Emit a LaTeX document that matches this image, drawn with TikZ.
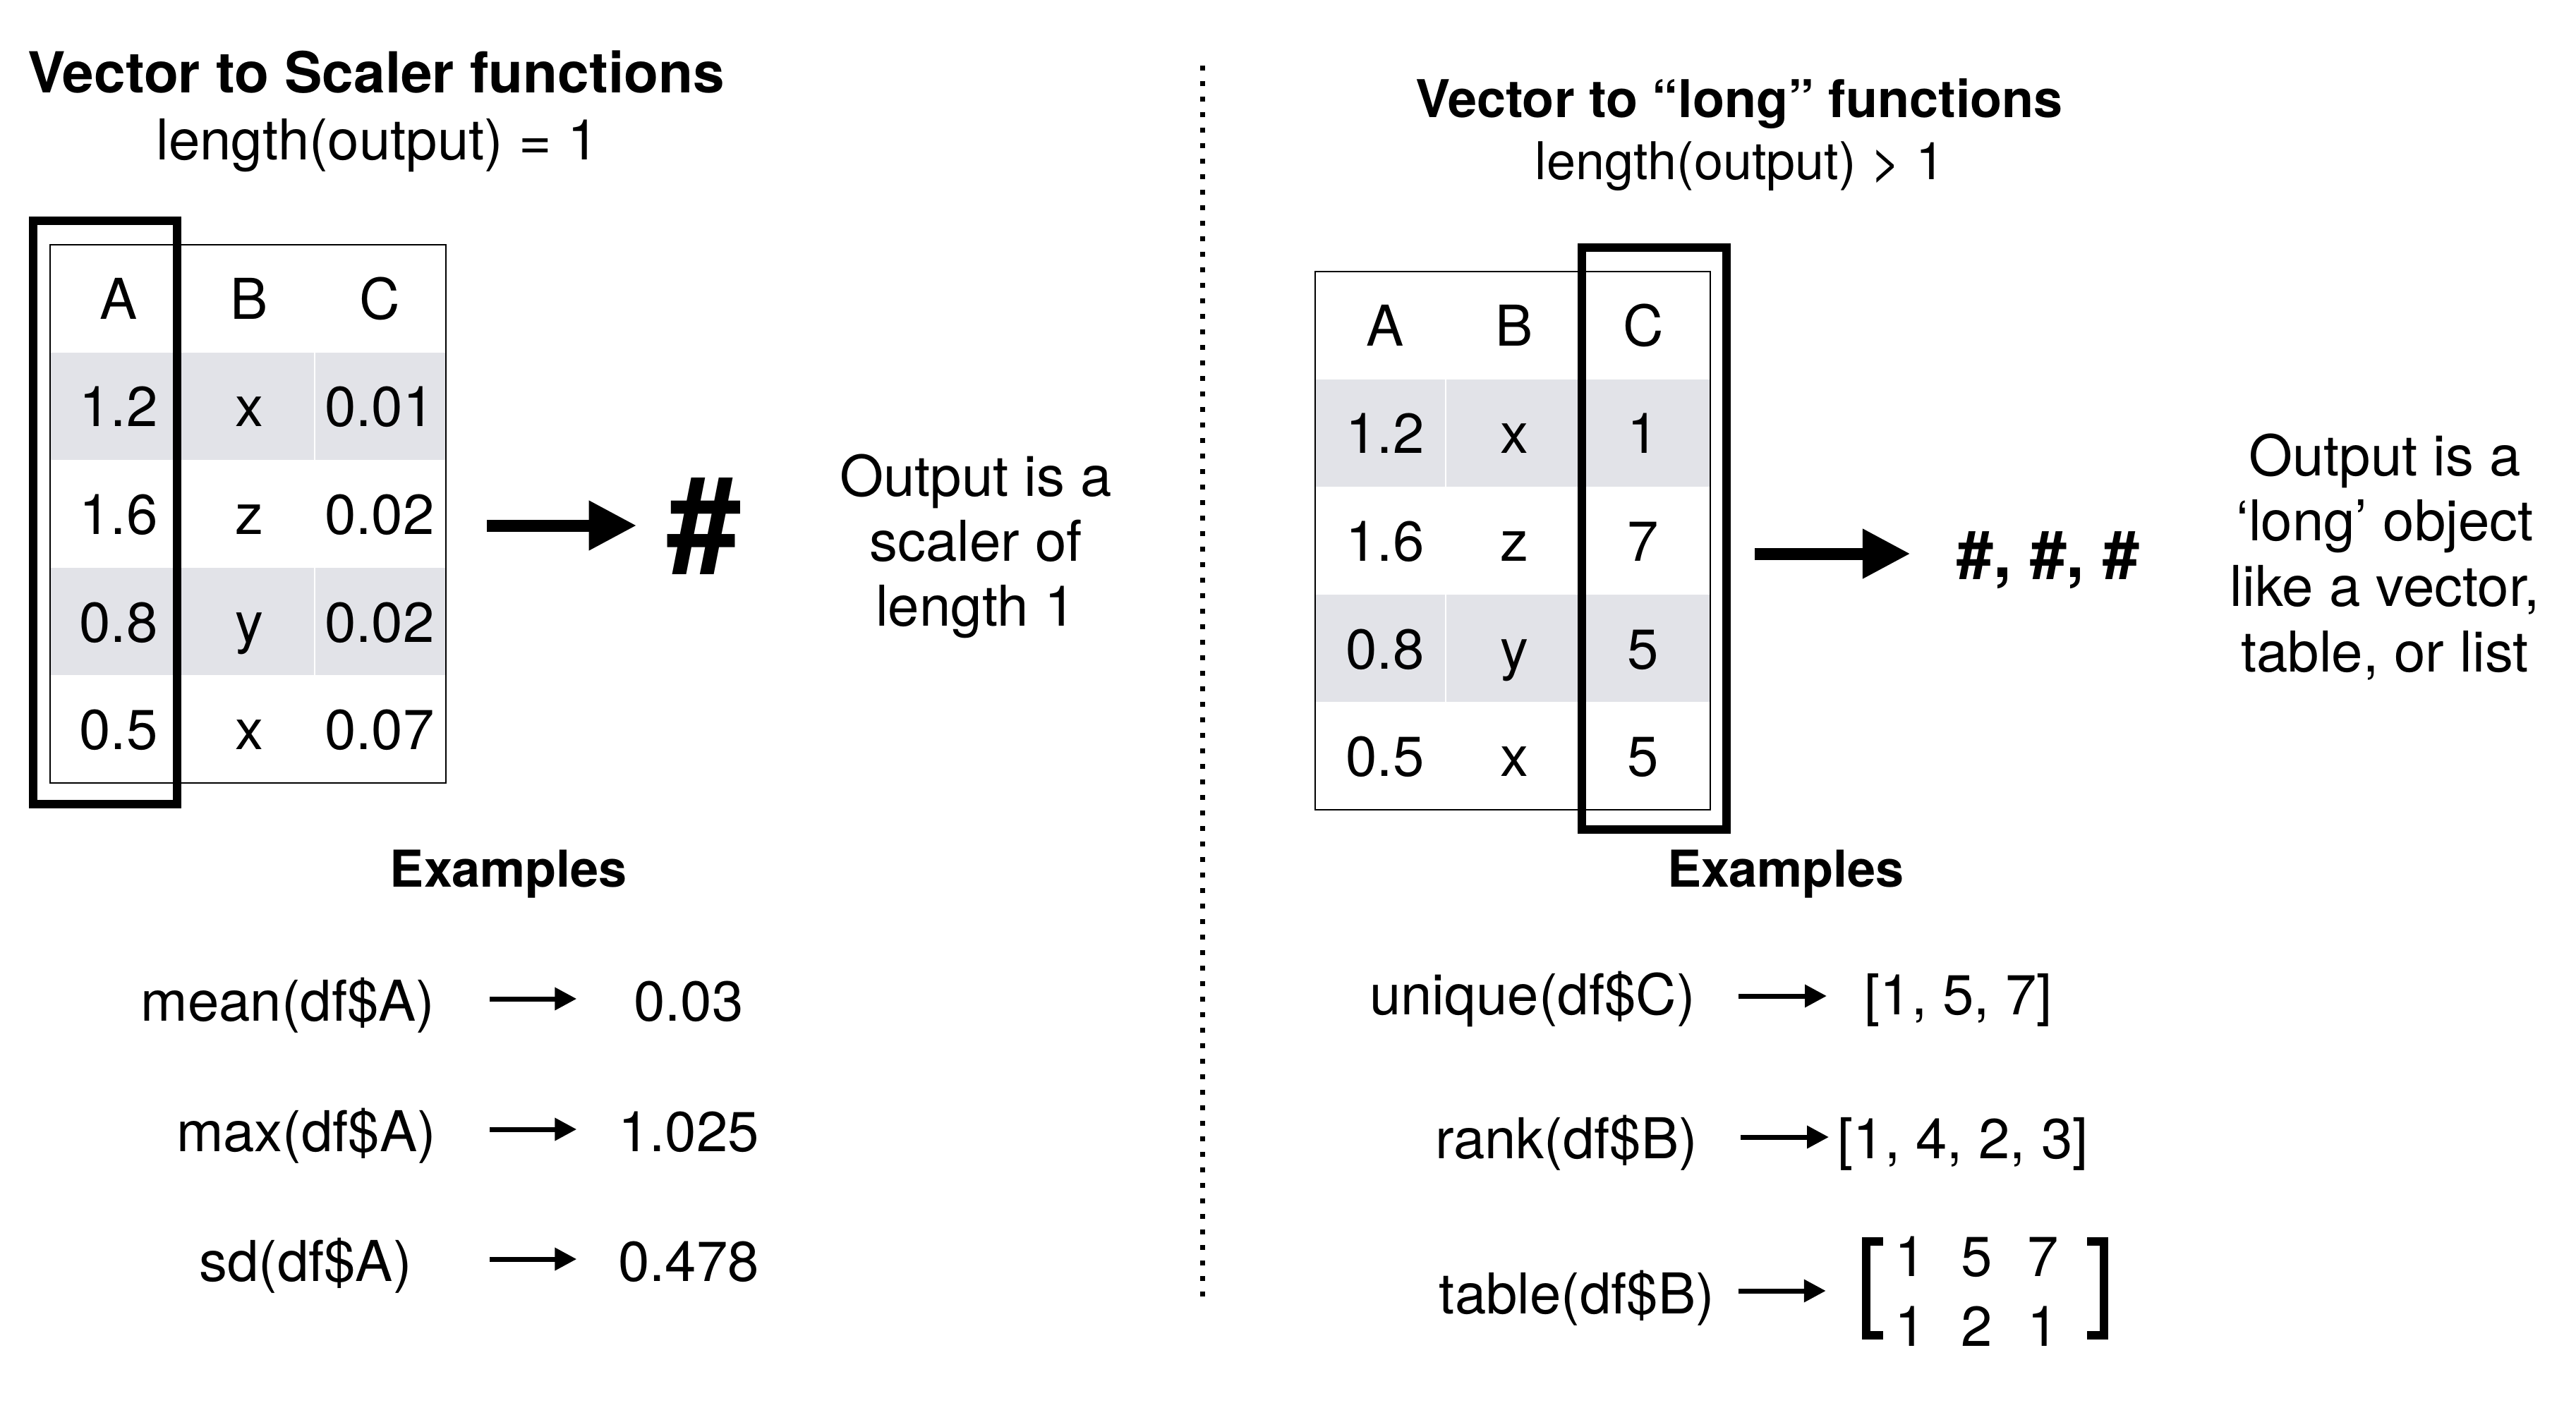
\documentclass[tikz,border=0pt]{standalone}
\usepackage{fontspec}
\setmainfont{TeX Gyre Heros}
\usetikzlibrary{arrows.meta}
\usetikzlibrary{positioning}
\usetikzlibrary{matrix}
\definecolor{rowgray}{RGB}{226,227,232}

\newcommand{\bodysize}{\fontsize{22.7}{27}\selectfont}
\newcommand{\headsize}{\fontsize{22.8}{27}\selectfont\bfseries}
\newcommand{\rheadsize}{\fontsize{21}{25}\selectfont\bfseries}
\newcommand{\exsize}{\fontsize{20.5}{25}\selectfont\bfseries}

\tikzset{
  txt/.style={anchor=base, font=\bodysize, inner sep=0pt},
  exval/.style={txt, minimum width=2cm},
  colbox/.style={line width=0.12cm},
  bigarrow/.style={line width=0.17cm, -{Triangle[length=0.68cm,width=0.66cm]}},
  smallarrow/.style={line width=0.07cm, -{Triangle[length=0.31cm,width=0.31cm]}},
  bracket/.style={line width=0.12cm, miter limit=10},
}

\begin{document}
\begin{tikzpicture}
  \useasboundingbox (0,0) rectangle (36.51,-19.89);

  % titles
  \node[anchor=base, font=\headsize, inner sep=0pt] (ltitle) at (5.33,-1.32) {Vector to Scaler functions};
  \node[txt] (lsub) at (5.35,-2.27) {length(output) = 1};
  \node[anchor=base, font=\rheadsize, inner sep=0pt] (rtitle) at (24.65,-1.67) {Vector to “long” functions};
  \node[anchor=base, font=\fontsize{21}{25}\selectfont, inner sep=0pt] (rsub) at (24.66,-2.55) {length(output) > 1};

  % left table
  \begin{scope}[shift={(0.71,-3.47)}]
    \fill[rowgray] (0,-1.526) rectangle (5.61,-3.052);
    \fill[rowgray] (0,-4.578) rectangle (5.61,-6.104);
    \foreach \xx in {1.80, 3.75} {
      \draw[white, line width=0.012cm] (\xx,-1.526) -- (\xx,-3.052);
      \draw[white, line width=0.012cm] (\xx,-4.578) -- (\xx,-6.104);
    }
    \draw[line width=0.02cm] (0,0) rectangle (5.61,-7.63);
    \foreach \h/\x in {A/0.97, B/2.82, C/4.67} {
      \node[txt] (lh\h) at (\x,-1.053) {\h};
    }
    \foreach \va/\vb/\vc [count=\i] in {1.2/x/0.01, 1.6/z/0.02, 0.8/y/0.02, 0.5/x/0.07} {
      \node[txt] (la\i) at (0.97,-1.053-1.526*\i) {\va};
      \node[txt] (lb\i) at (2.82,-1.053-1.526*\i) {\vb};
      \node[txt] (lc\i) at (4.67,-1.053-1.526*\i) {\vc};
    }
    \draw[colbox] (-0.24,0.34) rectangle (1.80,-7.93);
  \end{scope}

  % right table
  \begin{scope}[shift={(18.64,-3.85)}]
    \fill[rowgray] (0,-1.526) rectangle (5.60,-3.052);
    \fill[rowgray] (0,-4.578) rectangle (5.60,-6.104);
    \foreach \xx in {1.85, 3.75} {
      \draw[white, line width=0.012cm] (\xx,-1.526) -- (\xx,-3.052);
      \draw[white, line width=0.012cm] (\xx,-4.578) -- (\xx,-6.104);
    }
    \draw[line width=0.02cm] (0,0) rectangle (5.60,-7.63);
    \foreach \h/\x in {A/0.99, B/2.82, C/4.65} {
      \node[txt] (rh\h) at (\x,-1.053) {\h};
    }
    \foreach \va/\vb/\vc [count=\i] in {1.2/x/1, 1.6/z/7, 0.8/y/5, 0.5/x/5} {
      \node[txt] (ra\i) at (0.99,-1.053-1.526*\i) {\va};
      \node[txt] (rb\i) at (2.82,-1.053-1.526*\i) {\vb};
      \node[txt] (rc\i) at (4.65,-1.053-1.526*\i) {\vc};
    }
    \draw[colbox] (3.78,0.34) rectangle (5.83,-7.91);
  \end{scope}

  % results
  \node[anchor=base, font=\fontsize{53.5}{60}\selectfont\bfseries, inner sep=0pt] (lhash) at (9.975,-8.08) {\#};
  \coordinate (lstart) at (6.90,-7.45);
  \draw[bigarrow, shorten >=0.42cm] (lstart) -- (lstart -| lhash.west);

  \node[anchor=base, font=\fontsize{26.5}{30}\selectfont\bfseries, inner sep=0pt] (rhash) at (29.03,-8.18) {\#, \#, \#};
  \coordinate (rstart) at (24.87,-7.85);
  \draw[bigarrow, shorten >=0.65cm] (rstart) -- (rstart -| rhash.west);

  \foreach \t [count=\i] in {Output is a, scaler of, length 1} {
    \node[txt] (lout\i) at (13.83,-7.03-0.92*\i+0.92) {\t};
  }
  \foreach \t [count=\i] in {Output is a, ‘long’ object, {like a vector,}, {table, or list}} {
    \node[txt] (rout\i) at (33.80,-6.74-0.927*\i+0.927) {\t};
  }

  % divider
  \coordinate (dtop) at (17.04,-0.93);
  \coordinate (dbot) at (17.04,-18.38);
  \draw[line width=0.07cm, dash pattern=on 0.07cm off 0.15cm] (dtop) -- (dbot);

  % left examples
  \node[anchor=base, font=\exsize, inner sep=0pt] (lex) at (7.21,-12.57) {Examples};
  \foreach \f/\fx/\v/\y [count=\i] in {mean(df\$A)/4.08/0.03/14.47, max(df\$A)/4.34/1.025/16.32, sd(df\$A)/4.33/0.478/18.16} {
    \node[txt] (lfun\i) at (\fx,-\y) {\f};
    \node[exval] (lval\i) at (9.76,-\y) {\v};
    \coordinate (ltail\i) at (6.94,-\y+0.31);
    \draw[smallarrow, shorten >=0.58cm] (ltail\i) -- (ltail\i -| lval\i.west);
  }

  % right examples
  \node[anchor=base, font=\exsize, inner sep=0pt] (rex) at (25.31,-12.57) {Examples};
  \node[txt] (rfun1) at (21.72,-14.38) {unique(df\$C)};
  \node[txt] (rfun2) at (22.20,-16.42) {rank(df\$B)};
  \node[txt] (rfun3) at (22.35,-18.62) {table(df\$B)};
  \node[txt, anchor=base west] (rval1) at (26.42,-14.38) {[1, 5, 7]};
  \node[txt, anchor=base west] (rval2) at (26.04,-16.42) {[1, 4, 2, 3]};
  \matrix (rmat) [matrix of nodes, inner sep=0pt, column sep=0.495cm, row sep=0.42cm,
    nodes={font=\bodysize, inner sep=0pt, text height=0.57cm, text depth=0pt}]
    at (28.015,-18.30) {1 & 5 & 7\\ 1 & 2 & 1\\};
  \draw[bracket] ([xshift=-0.16cm,yshift=-0.09cm]rmat.north west) -- ++(-0.24,0) -- ++(0,-1.33) -- ++(0.24,0);
  \draw[bracket] ([xshift=0.40cm,yshift=-0.09cm]rmat.north east) -- ++(0.24,0) -- ++(0,-1.33) -- ++(-0.24,0);

  \coordinate (rtail1) at (24.64,-14.12);
  \coordinate (rtail2) at (24.67,-16.12);
  \coordinate (rtail3) at (24.64,-18.30);
  \draw[smallarrow, shorten >=0.53cm] (rtail1) -- (rtail1 -| rval1.west);
  \draw[smallarrow, shorten >=0.12cm] (rtail2) -- (rtail2 -| rval2.west);
  \draw[smallarrow, shorten >=0.97cm] (rtail3) -- (rtail3 -| rmat.west);
\end{tikzpicture}
\end{document}
